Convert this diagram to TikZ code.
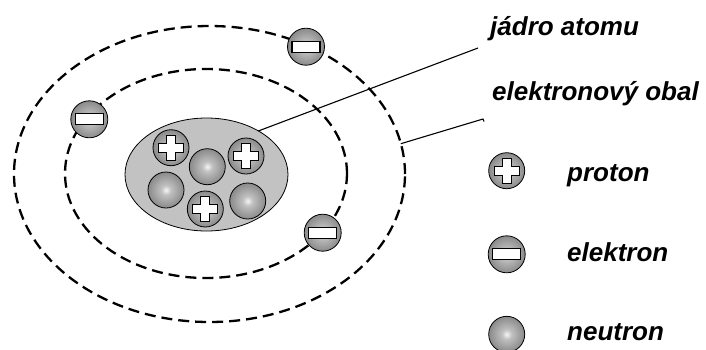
\documentclass[tikz,border=0pt]{standalone}
\usepackage{fontspec}
\setmainfont{Liberation Sans}
\usetikzlibrary{shapes.geometric}
\usetikzlibrary{positioning}

% light middle, darker rim
\pgfdeclareradialshading{ballshade}{\pgfpoint{0bp}{0bp}}{%
  color(0bp)=(gray!8); color(7bp)=(gray!50); color(25bp)=(gray!92); color(50bp)=(gray)}

\tikzset{
    orbit/.style = {ellipse, draw=black, line width=2.3pt, dash pattern=on 11pt off 6pt, inner sep=0pt, outer sep=0pt},
    core/.style = {ellipse, draw=black, thick, fill=gray!48, inner sep=0pt, outer sep=0pt},
    neutron/.style = {circle, draw=black, thick, minimum size=36pt, inner sep=0pt, shading=ballshade},
    proton/.style = {neutron, path picture={
        \draw[line width=1.1pt,fill=white,shift={(path picture bounding box.center)}]
          (-4.5pt,-12.5pt) -- (4.5pt,-12.5pt) -- (4.5pt,-4.5pt) -- (12.5pt,-4.5pt)
          -- (12.5pt,4.5pt) -- (4.5pt,4.5pt) -- (4.5pt,12.5pt) -- (-4.5pt,12.5pt)
          -- (-4.5pt,4.5pt) -- (-12.5pt,4.5pt) -- (-12.5pt,-4.5pt) -- (-4.5pt,-4.5pt) -- cycle;}},
    electron/.style = {neutron, minimum size=37pt, path picture={
        \draw[line width=1.1pt,fill=white]
          ([shift={(-14pt,-5.5pt)}]path picture bounding box.center)
          rectangle ([shift={(14pt,5.5pt)}]path picture bounding box.center);}},
    labeltext/.style = {anchor=base west, inner sep=0pt, font=\bfseries\itshape\fontsize{26}{31}\selectfont},
    leader/.style = {line width=1.1pt}
}

\begin{document}
\begin{tikzpicture}[x=1pt,y=-1pt]
\useasboundingbox (0,0) rectangle (706,349);
%
% orbits
\node[orbit, minimum width=391pt, minimum height=296pt] (outer) at (209.5,174) {};
\node[orbit, minimum width=282pt, minimum height=209pt] (inner) at (206,173.5) {};
%
% nucleus
\node[core, minimum width=163pt, minimum height=113pt] (nucleus) at (206.5,174.5) {};
\node[proton] (p1) at (171,147.7) {};
\node[neutron] (n1) at (207.3,166.7) {};
\node[proton] (p2) at (246,156) {};
\node[neutron] (n2) at (166,190) {};
\node[proton] (p3) at (205.3,209) {};
\node[neutron] (n3) at (247.7,201) {};
%
% electrons
\node[electron] (e1) at (306,46.7) {};
\node[electron] (e2) at (89.3,119.3) {};
\node[electron] (e3) at (322.7,232.7) {};
%
% captions
\node[labeltext] (jadro) at (490,35) {jádro atomu};
\node[labeltext] (obal) at (492,100) {elektronový obal};
\coordinate (jadroend) at (478,48);
\coordinate (obalend) at (483,119);
\draw[leader] (nucleus.40) -- (jadroend);
\draw[leader] (outer.9) -- (obalend) -- ++(1,2.5);
%
% legend
\node[proton] (lp) at (506.7,170.7) {};
\node[electron] (le) at (506.7,254.3) {};
\node[neutron] (ln) at (506.7,334.3) {};
\node[labeltext] (tp) at (567,181.7) {proton};
\node[labeltext] (te) at (567,261.7) {elektron};
\node[labeltext] (tn) at (567,340) {neutron};

\end{tikzpicture}
\end{document}
